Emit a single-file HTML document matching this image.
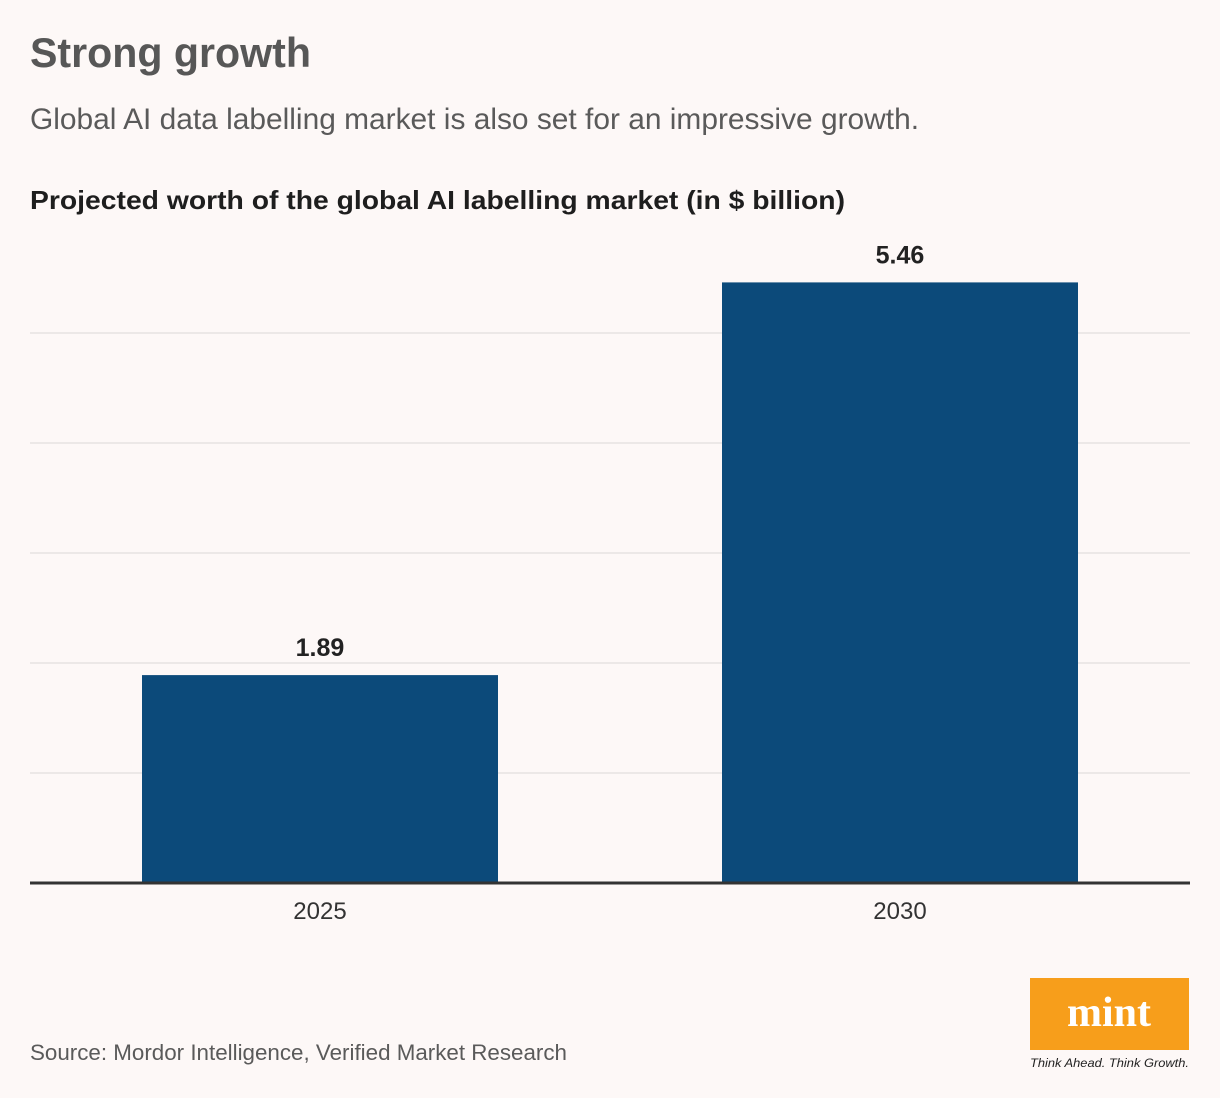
<!DOCTYPE html>
<html><head><meta charset="utf-8"><style>
html,body{margin:0;padding:0;background:#fdf8f7;}
svg{display:block;font-family:"Liberation Sans",sans-serif;}
</style></head><body>
<svg width="1220" height="1098" viewBox="0 0 1220 1098">
<rect width="1220" height="1098" fill="#fdf8f7"/>
<text x="30" y="67" font-size="42" font-weight="bold" fill="#575757" textLength="281" lengthAdjust="spacingAndGlyphs">Strong growth</text>
<text x="30" y="129" font-size="30" fill="#5a5a5a" textLength="889" lengthAdjust="spacingAndGlyphs">Global AI data labelling market is also set for an impressive growth.</text>
<text x="30" y="209" font-size="26" font-weight="bold" fill="#1e1e1e" textLength="815" lengthAdjust="spacingAndGlyphs">Projected worth of the global AI labelling market (in $ billion)</text>
<g id="grid"></g>
<g id="bars"></g>
<rect x="30" y="881.5" width="1160" height="3" fill="#333"/>
<text x="30" y="1060" font-size="22" fill="#5a5a5a" textLength="537" lengthAdjust="spacingAndGlyphs">Source: Mordor Intelligence, Verified Market Research</text>
<g>
<rect x="1030" y="978" width="159" height="72" fill="#f79e1b"/>
<text x="1109" y="1026" font-size="42" font-weight="bold" font-family="Liberation Serif,serif" fill="#fff" text-anchor="middle">mint</text>
<text x="1030" y="1067" font-size="12" font-style="italic" fill="#222" textLength="159" lengthAdjust="spacingAndGlyphs">Think Ahead. Think Growth.</text>
</g>
</svg>
<script>
const categories = ["2025", "2030"];
const values = [1.89, 5.46];
const valueLabels = ["1.89", "5.46"];
const gridTicks = [1, 2, 3, 4, 5];

const NS = "http://www.w3.org/2000/svg";
const x0 = 30, x1 = 1190, baseY = 883, pxPerUnit = 110;
const band = (x1 - x0) / categories.length;
const barW = 356;
function yScale(v){ return baseY - v * pxPerUnit; }
function xCenter(i){ return x0 + band * (i + 0.5); }

const grid = document.getElementById('grid');
gridTicks.forEach(t => {
  const l = document.createElementNS(NS, 'line');
  l.setAttribute('x1', x0); l.setAttribute('x2', x1);
  l.setAttribute('y1', yScale(t)); l.setAttribute('y2', yScale(t));
  l.setAttribute('stroke', '#e2dedd'); l.setAttribute('stroke-width', '1.2');
  
  
  grid.appendChild(l);
});

const bars = document.getElementById('bars');
categories.forEach((c, i) => {
  const cx = xCenter(i);
  const r = document.createElementNS(NS, 'rect');
  r.setAttribute('x', cx - barW / 2);
  r.setAttribute('y', yScale(values[i]));
  r.setAttribute('width', barW);
  r.setAttribute('height', baseY - yScale(values[i]));
  r.setAttribute('fill', '#0c4a7a');
  
  
  bars.appendChild(r);

  const vl = document.createElementNS(NS, 'text');
  vl.setAttribute('x', cx); vl.setAttribute('y', yScale(values[i]) - 19);
  vl.setAttribute('text-anchor', 'middle');
  vl.setAttribute('font-size', '25'); vl.setAttribute('font-weight', 'bold');
  vl.setAttribute('fill', '#222');
  vl.textContent = valueLabels[i];
  
  
  bars.appendChild(vl);

  const xl = document.createElementNS(NS, 'text');
  xl.setAttribute('x', cx); xl.setAttribute('y', 919);
  xl.setAttribute('text-anchor', 'middle');
  xl.setAttribute('font-size', '24'); xl.setAttribute('fill', '#333');
  xl.textContent = c;
  
  
  bars.appendChild(xl);
});
</script>
</body></html>
